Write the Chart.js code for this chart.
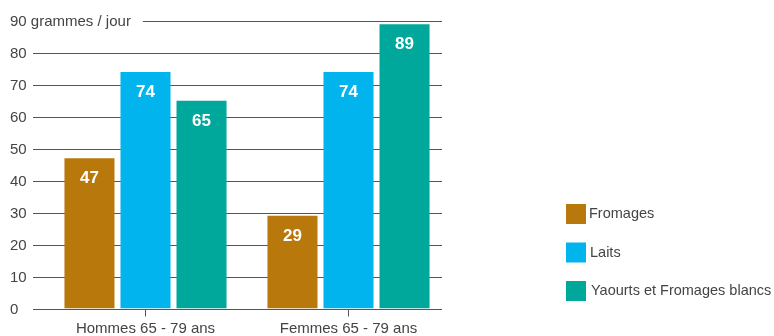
<!DOCTYPE html>
<html>
<head>
    <title>Consommation de produits laitiers 65 - 79 ans</title>
    <script src="https://cdn.jsdelivr.net/npm/chart.js"></script>
    <style>
        body {
            margin: 0;
            background: #fff;
        }
        .wrap {
            width: 774px;
            height: 336px;
            position: relative;
        }
    </style>
</head>
<body>
    <div class="wrap">
        <canvas id="chart"></canvas>
    </div>

    <script>
        const categories = ['Hommes 65 - 79 ans', 'Femmes 65 - 79 ans'];
        const seriesNames = ['Fromages', 'Laits', 'Yaourts et Fromages blancs'];
        const fromages = [47, 29];
        const laits = [74, 74];
        const yaourts = [65, 89];
        const yTicks = [0, 10, 20, 30, 40, 50, 60, 70, 80, 90];
        const yTickLabels = ['0', '10', '20', '30', '40', '50', '60', '70', '80', '90 grammes / jour'];
        const colors = ['#B8780B', '#02B4EE', '#00A89B'];

        const FONT = '"Liberation Sans", Arial, sans-serif';
        const TEXT = '#444';

        // y labels + grid lines behind the bars
        const gridPlugin = {
            id: 'gridPlugin',
            beforeDatasetsDraw(chart) {
                const ctx = chart.ctx;
                const y = chart.scales.y;
                const left = 33, right = 442;
                ctx.save();
                ctx.font = '15px ' + FONT;
                ctx.fillStyle = TEXT;
                ctx.textAlign = 'left';
                ctx.textBaseline = 'middle';
                ctx.strokeStyle = '#555';
                ctx.lineWidth = 1;
                yTicks.forEach((v, i) => {
                    const py = Math.round(y.getPixelForValue(v)) + 0.5;
                    const label = yTickLabels[i];
                    ctx.fillText(label, 10, py);
                    let x0 = left;
                    if (i === yTicks.length - 1) {
                        x0 = 10 + ctx.measureText(label).width + 12;
                    }
                    ctx.beginPath();
                    ctx.moveTo(x0, py);
                    ctx.lineTo(right, py);
                    ctx.stroke();
                });
                ctx.restore();
            },
            afterDatasetsDraw(chart) {
                // value labels inside the bars
                const ctx = chart.ctx;
                ctx.save();
                ctx.font = 'bold 17px ' + FONT;
                ctx.fillStyle = '#fff';
                ctx.textAlign = 'center';
                ctx.textBaseline = 'middle';
                chart.data.datasets.forEach((ds, di) => {
                    chart.getDatasetMeta(di).data.forEach((bar, i) => {
                        ctx.fillText(String(ds.data[i]), bar.x, bar.y + 20);
                    });
                });
                ctx.restore();
            },
            afterDraw(chart) {
                // legend on the right
                const ctx = chart.ctx;
                ctx.save();
                ctx.font = '14.5px ' + FONT;
                ctx.textAlign = 'left';
                ctx.textBaseline = 'middle';
                chart.data.datasets.forEach((ds, i) => {
                    const top = 204 + i * 38.5;
                    ctx.fillStyle = ds.backgroundColor;
                    ctx.fillRect(566, top, 20, 20);
                    ctx.fillStyle = TEXT;
                    ctx.fillText(ds.label, 589 + i, top + 10);
                });
                ctx.restore();
            }
        };

        const ctx = document.getElementById('chart').getContext('2d');
        new Chart(ctx, {
            type: 'bar',
            data: {
                labels: categories,
                datasets: [
                    { label: seriesNames[0], data: fromages, backgroundColor: colors[0] },
                    { label: seriesNames[1], data: laits, backgroundColor: colors[1] },
                    { label: seriesNames[2], data: yaourts, backgroundColor: colors[2] }
                ]
            },
            options: {
                responsive: true,
                maintainAspectRatio: false,
                animation: false,
                categoryPercentage: 0.828,
                barPercentage: 0.893,
                layout: {
                    padding: { top: 21, left: 44, right: 324, bottom: 0 }
                },
                plugins: {
                    legend: { display: false },
                    tooltip: { enabled: false }
                },
                scales: {
                    x: {
                        border: { display: false },
                        grid: {
                            display: true,
                            drawOnChartArea: false,
                            drawTicks: true,
                            tickLength: 8,
                            offset: false,
                            color: '#555'
                        },
                        ticks: {
                            padding: 3,
                            color: TEXT,
                            font: { family: FONT, size: 15 }
                        },
                        afterFit(scale) {
                            scale.height = 27.5;
                        }
                    },
                    y: {
                        display: false,
                        min: 0,
                        max: 90
                    }
                }
            },
            plugins: [gridPlugin]
        });
    </script>
</body>
</html>
